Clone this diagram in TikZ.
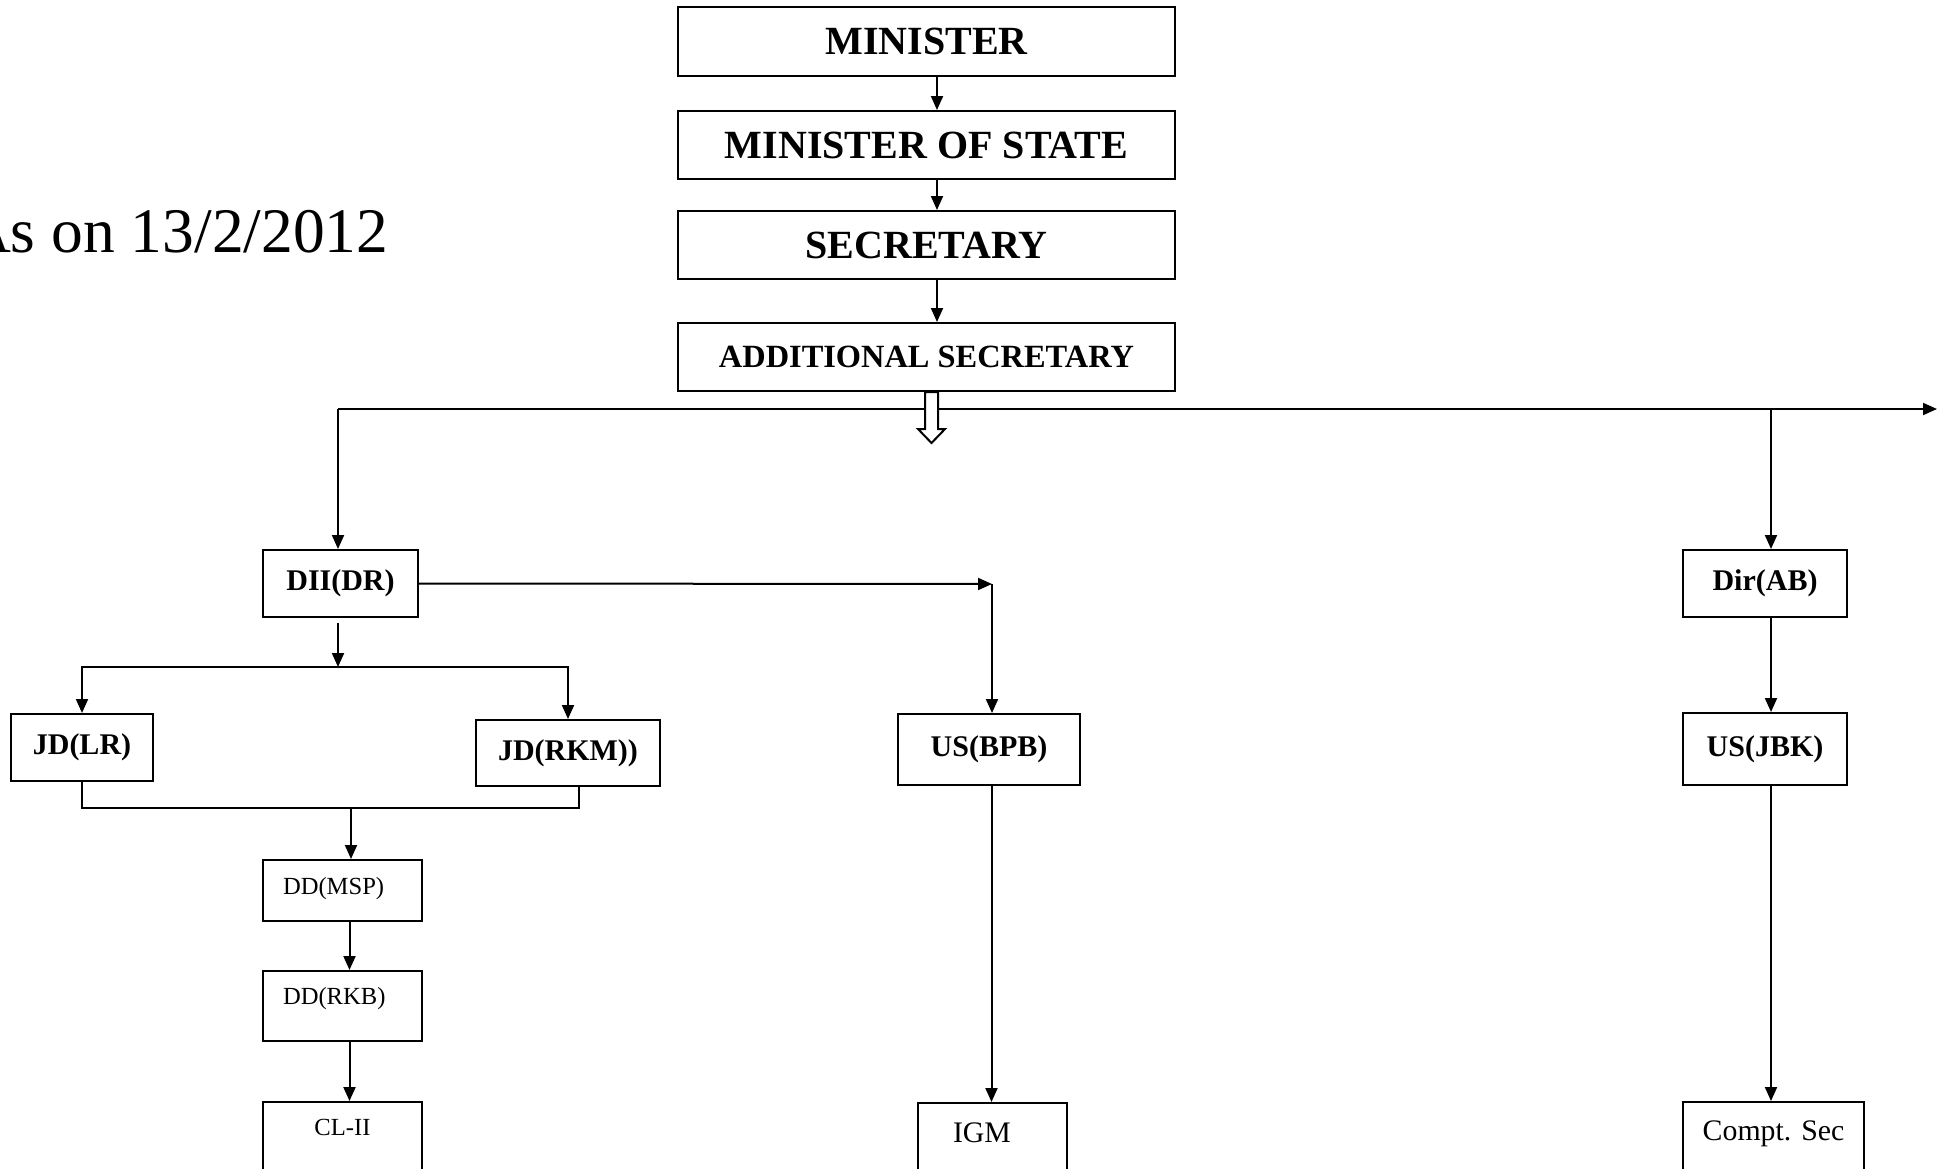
\documentclass[tikz,border=0pt]{standalone}
\usepackage{fontspec}
\setmainfont{Liberation Serif}
\usepackage{tikz}
\usetikzlibrary{
	arrows.meta,
	positioning,
	calc
}
\tikzset{
  % arrow
	cstra/.style      ={-{Triangle[length=14pt,width=12pt]}, line width=2pt}, % down/right arrow
	cstline/.style    ={line width=2pt},                                       % plain joint
	csthollow/.style  ={line width=2pt, fill=white, line join=miter},          % hollow arrow
  % node
	cstbox/.style     ={draw=black, line width=2pt, inner sep=0pt, align=center},
	cstboxtop/.style  ={cstbox, anchor=north},
  % font
	cstbig/.style     ={font=\fontsize{40}{48}\selectfont\bfseries},
	cstmid/.style     ={font=\fontsize{32.4}{38}\selectfont\bfseries},
	cstsmall/.style   ={font=\fontsize{30}{36}\selectfont\bfseries},
	cstplain/.style   ={font=\fontsize{24.6}{30}\selectfont},
	cstplainl/.style  ={font=\fontsize{29.8}{36}\selectfont}
}

\begin{document}
\begin{tikzpicture}[x=1pt,y=-1pt]
	\useasboundingbox (0,0) rectangle (1944,1168);
	\node[anchor=base east, font=\fontsize{63.5}{76}\selectfont] (date) at (392,252) {As on 13/2/2012};
	% top line
	\node[cstbox,cstbig,minimum width=497pt,minimum height=69pt] (min) at (926.5,41.5) {MINISTER};
	\node[cstbox,cstbig,minimum width=497pt,minimum height=68pt] (mos) at (926.5,145) {MINISTER OF STATE};
	\node[cstbox,cstbig,minimum width=497pt,minimum height=68pt] (sec) at (926.5,245) {SECRETARY};
	\node[cstbox,cstmid,minimum width=497pt,minimum height=68pt] (add) at (926.5,357) {ADDITIONAL SECRETARY};
	\draw[cstra] ([xshift=10.5pt]min.south) -- ([xshift=10.5pt]mos.north);
	\draw[cstra] ([xshift=10.5pt]mos.south) -- ([xshift=10.5pt]sec.north);
	\draw[cstra] ([xshift=10.5pt]sec.south) -- ([xshift=10.5pt]add.north);
	% branches
	\node[cstbox,cstsmall,minimum width=155pt,minimum height=67pt] (dii) at (340.5,583.5) {DII(DR)};
	\node[cstbox,cstsmall,minimum width=164pt,minimum height=67pt] (dirab) at (1765,583.5) {Dir(AB)};
	\node[cstbox,cstsmall,minimum width=142pt,minimum height=67pt] (jdlr) at (82,747.5) {JD(LR)};
	\node[cstbox,cstsmall,minimum width=184pt,minimum height=66pt] (jdrkm) at (568,753) {JD(RKM))};
	\node[cstbox,cstsmall,minimum width=182pt,minimum height=71pt] (usbpb) at (989,749.5) {US(BPB)};
	\node[cstbox,cstsmall,minimum width=164pt,minimum height=72pt] (usjbk) at (1765,749) {US(JBK)};
	\node[cstboxtop,cstplain,text width=119pt,inner xsep=20pt,align=left,text height=34pt,text depth=27pt] (ddmsp) at (342.5,859) {DD(MSP)};
	\node[cstboxtop,cstplain,text width=119pt,inner xsep=20pt,align=left,text height=33pt,text depth=37pt] (ddrkb) at (342.5,970) {DD(RKB)};
	\node[cstboxtop,cstplain,minimum width=159pt,text height=33pt,text depth=56pt] (cl) at (342.5,1101) {CL-II};
	\node[cstboxtop,cstplainl,text width=79pt,inner xsep=35pt,align=left,text height=39pt,text depth=49pt] (igm) at (992.5,1102) {IGM};
	\node[cstboxtop,cstplainl,minimum width=181pt,text height=38pt,text depth=51pt] (compt) at (1773.5,1101) {Compt. Sec};
	% bus under additional secretary
	\coordinate (busL) at (338,409);
	\coordinate (busD) at (1771,409);
	\coordinate (busR) at (1937,409);
	\draw[cstra] (busL) -- (busR);
	\draw[cstra] (busL) -- (busL |- dii.north);
	\draw[cstra] (busD) -- (busD |- dirab.north);
	\coordinate (hol) at ([xshift=5pt]add.south);
	\draw[csthollow] ($(hol)+(-6.5,0)$) -- ++(0,37) -- ++(-7,0) -- ++(13.5,14)
		-- ++(13.5,-14) -- ++(-7,0) -- ++(0,-37) -- cycle;
	% left part
	\coordinate (jdbus) at (338,667);
	\draw[cstra] ([yshift=-5pt]dii.south -| jdbus) -- (jdbus);
	\draw[cstra] (jdbus) -| (jdlr.north);
	\draw[cstra] (jdbus) -| (jdrkm.north);
	\coordinate (ddbus) at (351,808);
	\draw[cstline] (jdlr.south) |- (ddbus) -| ([xshift=11pt]jdrkm.south);
	\draw[cstra] (ddbus) -- (ddbus |- ddmsp.north);
	\draw[cstra] ([xshift=7pt]ddmsp.south) -- ([xshift=7pt]ddrkb.north);
	\draw[cstra] ([xshift=7pt]ddrkb.south) -- ([xshift=7pt]cl.north);
	% middle part
	\coordinate (bpbturn) at (992,584);
	\draw[cstra] (dii.east) -- (bpbturn);
	\draw[cstra] (bpbturn) -- (bpbturn |- usbpb.north);
	\draw[cstra] ([xshift=2.5pt]usbpb.south) -- ([xshift=2.5pt]usbpb.south |- igm.north);
	% right part
	\draw[cstra] ([xshift=6pt]dirab.south) -- ([xshift=6pt]usjbk.north);
	\draw[cstra] ([xshift=6pt]usjbk.south) -- ([xshift=6pt]usjbk.south |- compt.north);
\end{tikzpicture}
\end{document}
